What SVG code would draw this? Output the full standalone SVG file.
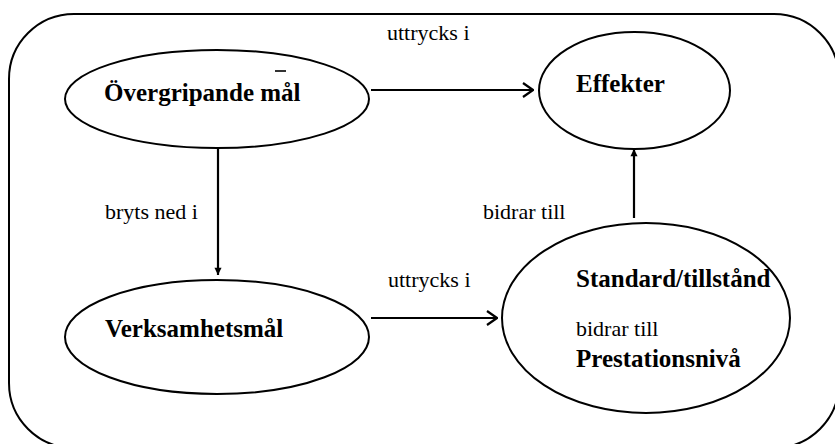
<svg xmlns="http://www.w3.org/2000/svg" width="835" height="444" viewBox="0 0 835 444">
<defs>
<marker id="open" viewBox="0 0 12 16" refX="11" refY="8" markerWidth="12" markerHeight="16" markerUnits="userSpaceOnUse" orient="auto">
<path d="M1,1 L11,8 L1,15" fill="none" stroke="#000" stroke-width="2.2"/>
</marker>
<marker id="fill" viewBox="0 0 10 14" refX="10" refY="5" markerWidth="14" markerHeight="10" markerUnits="userSpaceOnUse" orient="auto">
<path d="M0,0 L10,5 L0,10 Z" fill="#000"/>
</marker>
</defs>
<rect id="frame" x="9" y="14" width="830" height="434" rx="65" ry="65" fill="#fff" stroke="#000" stroke-width="2"/>
<g id="connectors">
<g fill="none" stroke="#000" stroke-width="2.2">
<line x1="371" y1="90" x2="533" y2="90" marker-end="url(#open)"/>
<line x1="218" y1="147" x2="218" y2="275" marker-end="url(#fill)"/>
<line x1="371" y1="318" x2="497" y2="318" marker-end="url(#open)"/>
<line x1="634" y1="218" x2="634" y2="149" marker-end="url(#fill)"/>
</g>
<text x="387" y="40" font-family="Times New Roman, serif" font-size="22">uttrycks i</text>
<text x="105" y="219" font-family="Times New Roman, serif" font-size="22">bryts ned i</text>
<text x="483" y="219" font-family="Times New Roman, serif" font-size="22">bidrar till</text>
<text x="388" y="287" font-family="Times New Roman, serif" font-size="22">uttrycks i</text>
</g>
<g id="overgripande">
<ellipse cx="217" cy="99" rx="152" ry="49" fill="#fff" stroke="#000" stroke-width="2"/>
<text x="104" y="101" font-family="Times New Roman, serif" font-weight="bold" font-size="25">Övergripande mål</text>
<line x1="275" y1="71" x2="286" y2="71" stroke="#000" stroke-width="1.6"/>
</g>
<g id="effekter">
<ellipse cx="634.5" cy="90.5" rx="95.5" ry="58.5" fill="#fff" stroke="#000" stroke-width="2"/>
<text x="576" y="92" font-family="Times New Roman, serif" font-weight="bold" font-size="25">Effekter</text>
</g>
<g id="verksamhet">
<ellipse cx="217" cy="337" rx="152" ry="57" fill="#fff" stroke="#000" stroke-width="2"/>
<text x="105" y="337" font-family="Times New Roman, serif" font-weight="bold" font-size="25">Verksamhetsmål</text>
</g>
<g id="standard">
<ellipse cx="646" cy="318" rx="144" ry="95" fill="#fff" stroke="#000" stroke-width="2"/>
<text x="576" y="287" font-family="Times New Roman, serif" font-weight="bold" font-size="25">Standard/tillstånd</text>
<text x="576" y="336" font-family="Times New Roman, serif" font-size="22">bidrar till</text>
<text x="576" y="367" font-family="Times New Roman, serif" font-weight="bold" font-size="25">Prestationsnivå</text>
</g>
</svg>
